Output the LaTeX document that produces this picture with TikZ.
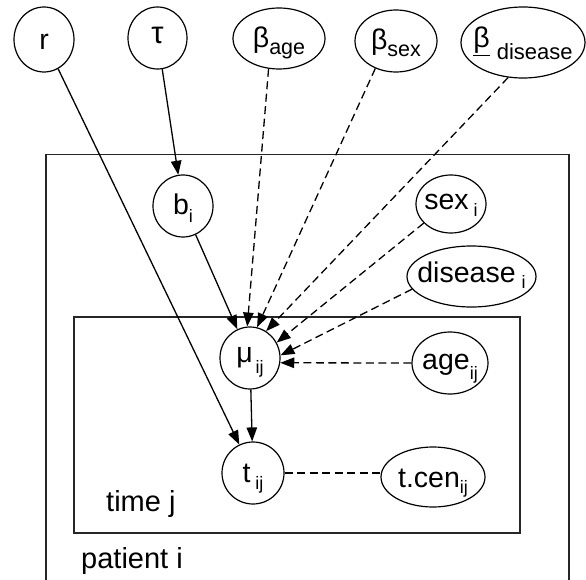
\documentclass[tikz,border=0pt]{standalone}
\usepackage{fontspec}
\setmainfont{Liberation Sans}
\usetikzlibrary{shapes.geometric,arrows.meta}
% label placed with its baseline #1 below the node centre, taking no room
\newcommand{\lab}[2][8]{\makebox[0pt]{\raisebox{-#1pt}[0pt][0pt]{#2}}}
% lowered index: size, drop, text
\newcommand{\lo}[3]{\raisebox{-#2pt}{\fontsize{#1}{#1}\selectfont #3}}

\begin{document}
\begin{tikzpicture}[x=1pt,y=-1pt,
  var/.style={draw,ellipse,inner sep=0pt,line width=1.2pt,
    font=\fontsize{28.5}{30}\selectfont},
  plate/.style={draw,line width=1.3pt,black!85},
  platelabel/.style={anchor=base west,inner sep=0pt,
    font=\fontsize{29}{30}\selectfont},
  dep/.style={line width=1.3pt,-{Triangle[length=14pt,width=10.5pt]}},
  dashdep/.style={dep,dash pattern=on 8pt off 4.5pt},
  dashlink/.style={line width=1.3pt,dash pattern=on 8pt off 4.5pt}]
\useasboundingbox (0,0) rectangle (586,580);

% plates
\draw[plate] (46,585) -- (46,154.5) -- (569,154.5) -- (569,585);
\draw[plate] (74,317) rectangle (520,533);
\node[platelabel] (timej) at (106,511) {time j};
\node[platelabel] (patienti) at (81,568) {patient i};

% hyperparameters
\node[var,minimum width=60pt,minimum height=65pt] (r) at (44,39.5) {\lab[10]{r}};
\node[var,minimum width=59pt,minimum height=62pt] (tau) at (157.5,38) {\lab[6]{\fontsize{31}{31}\selectfont τ}};
\node[var,minimum width=92pt,minimum height=61pt] (bage) at (279,38.5)
  {\lab[9]{β\lo{21.5}{7}{age}}};
\node[var,minimum width=82pt,minimum height=62pt] (bsex) at (396,41)
  {\lab[9]{β\lo{21.5}{7}{sex}}};
\node[var,minimum width=124pt,minimum height=71pt] (bdis) at (523,42.5)
  {\lab[5]{\underline{β}\hspace{7pt}\lo{22}{12}{disease}}};

% patient level
\node[var,minimum width=60pt,minimum height=62pt] (b) at (183,206)
  {\lab[9]{b\lo{18}{8}{i}}};
\node[var,minimum width=70pt,minimum height=58pt] (sex) at (451,204)
  {\lab[6]{sex\hspace{5pt}\lo{18}{7}{i}}};
\node[var,minimum width=129pt,minimum height=61pt] (dis) at (471.5,276.5)
  {\lab[6]{disease\hspace{6pt}\lo{18}{6}{i}}};

% time level
\node[var,minimum width=60pt,minimum height=62pt] (mu) at (250,358)
  {\lab[4]{μ\hspace{3pt}\lo{18}{11}{ij}}};
\node[var,minimum width=62pt,minimum height=62pt] (t) at (253,473)
  {\lab[9]{t\hspace{5pt}\lo{18}{7}{ij}}};
\node[var,minimum width=76pt,minimum height=62pt] (age) at (450,363)
  {\lab[6]{age\lo{18}{10}{ij}}};
\node[var,minimum width=104pt,minimum height=60pt] (tcen) at (433,477)
  {\lab[10]{t.cen\lo{18}{6}{ij}}};

% solid dependencies
\draw[dep] (r) -- (t);
\draw[dep] (tau) -- (b);
\draw[dep] (b) -- (mu);
\draw[dep] (mu) -- (t);

% dashed dependencies (covariate effects)
\draw[dashdep] (bage.251) -- (mu.95.5);
\draw[dashdep] (bsex.233) -- (mu.77);
\draw[dashdep] (bdis.247) -- (mu.59);
\draw[dashdep] (sex.215) -- (mu.30);
\draw[dashdep] (dis.192) -- (mu.5);
\draw[dashdep] (age.west) -- (mu.-9);
\draw[dashlink] (t.east) -- (t.east -| tcen.west);
\end{tikzpicture}
\end{document}
